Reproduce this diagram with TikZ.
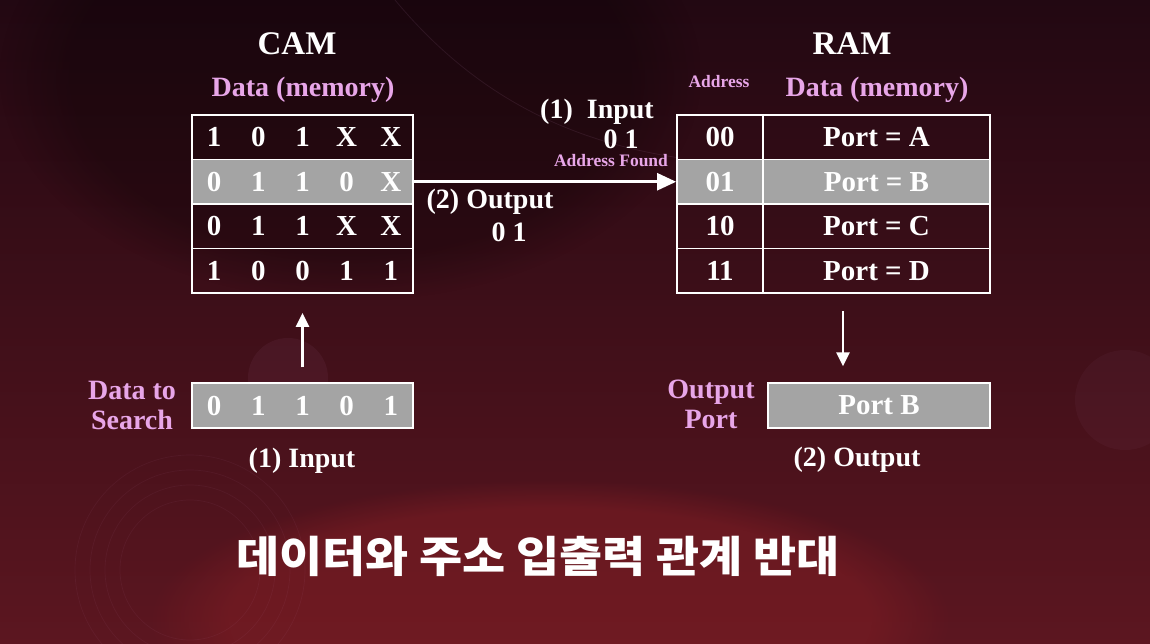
\documentclass[tikz,border=0pt]{standalone}
\usepackage{fontspec}
\setmainfont{Liberation Serif}
\newfontfamily\kr{Noto Sans CJK KR}
\usetikzlibrary{arrows.meta,fadings}
\definecolor{pinkc}{RGB}{232,166,232}
\definecolor{grayc}{RGB}{164,164,164}
\definecolor{bgtop}{RGB}{34,8,18}
\definecolor{bgbot}{RGB}{92,22,32}
\definecolor{glow}{RGB}{130,30,36}
\tikzset{
  wt/.style={text=white, font=\bfseries\fontsize{28}{30}\selectfont, inner sep=0pt},
  pk/.style={text=pinkc, font=\bfseries\fontsize{28}{30}\selectfont, inner sep=0pt},
  pksmall/.style={text=pinkc, font=\bfseries\fontsize{17.5}{19}\selectfont, inner sep=0pt},
  ttl/.style={text=white, font=\bfseries\fontsize{33}{35}\selectfont, inner sep=0pt},
  cellbox/.style={draw=white, line width=1.8pt, minimum height=44.5pt, inner sep=0pt},
  dig/.style={text=white, font=\bfseries\fontsize{29}{30}\selectfont, inner sep=0pt, text depth=0pt},
  arr/.style={draw=white, line width=2.4pt, -{Triangle[length=14pt,width=13pt]}},
  bigarr/.style={draw=white, line width=2.6pt, -{Triangle[length=19pt,width=17pt]}},
}
\begin{document}
\begin{tikzpicture}[x=1pt,y=-1pt]
\useasboundingbox (0,0) rectangle (1150,644);
% background
\begin{scope}
\clip (0,0) rectangle (1150,644);
\shade[top color=bgtop, bottom color=bgbot] (0,0) rectangle (1150,644);
\fill[glow, opacity=0.5, path fading=circle with fuzzy edge 20 percent] (150,480) rectangle (950,760);
\fill[black, opacity=0.25, path fading=circle with fuzzy edge 20 percent] (0,-150) rectangle (700,300);
% faint decorations
\fill[pinkc, opacity=0.05] (288,378) circle (40);
\fill[pinkc, opacity=0.035] (1125,400) circle (50);
\foreach \r in {70,85,100,115}
  \draw[pinkc, opacity=0.05, line width=0.7pt] (190,570) circle (\r);
\draw[pinkc, opacity=0.09, line width=0.8pt] (395,0) .. controls (470,90) and (560,140) .. (680,158);
\end{scope}

% titles
\node[ttl, anchor=base] (camt) at (297,55) {CAM};
\node[ttl, anchor=base] (ramt) at (852,55) {RAM};
\node[pk, anchor=base] (camd) at (303,97) {Data (memory)};
\node[pk, anchor=base] (ramd) at (877,97) {Data (memory)};
\node[pksmall, anchor=base] (addr) at (719,88) {Address};

% CAM table
\node[cellbox, minimum width=221pt] (cam1) at (302.5,137.25) {};
\node[cellbox, minimum width=221pt, fill=grayc] (cam2) at (302.5,181.75) {};
\node[cellbox, minimum width=221pt] (cam3) at (302.5,226.25) {};
\node[cellbox, minimum width=221pt] (cam4) at (302.5,270.75) {};
\foreach \row/\y [count=\i] in {{1,0,1,X,X}/137.25,{0,1,1,0,X}/181.75,{0,1,1,X,X}/226.25,{1,0,0,1,1}/270.75}{
  \foreach \d [count=\j] in \row {
    \node[dig] (c\i\j) at (169.9+44.2*\j,\y) {\d};
  }
}

% RAM table
\foreach \a/\p/\y [count=\i] in {00/A/137.25,01/B/181.75,10/C/226.25,11/D/270.75}{
  \ifnum\i=2
    \node[cellbox, minimum width=86pt, fill=grayc] (ra\i) at (720,\y) {};
    \node[cellbox, minimum width=227pt, fill=grayc] (rd\i) at (876.5,\y) {};
  \else
    \node[cellbox, minimum width=86pt] (ra\i) at (720,\y) {};
    \node[cellbox, minimum width=227pt] (rd\i) at (876.5,\y) {};
  \fi
  \node[dig] (ral\i) at (720,\y) {\a};
  \node[dig] (rdl\i) at (876.5,\y) {Port = \p};
}

% middle arrow and labels
\draw[bigarr] (cam2.east) -- (ra2.west);
\node[wt, anchor=base] (in1) at (597,119) {(1)\ \ Input};
\node[wt, anchor=base] (in01) at (621,149) {0 1};
\node[pksmall, anchor=base] (found) at (611,167) {Address Found};
\node[wt, anchor=base] (out2) at (490,209) {(2) Output};
\node[wt, anchor=base] (out01) at (509,241) {0 1};

% search box
\node[cellbox, minimum width=221pt, fill=grayc] (search) at (302.5,405.5) {};
\foreach \d [count=\j] in {0,1,1,0,1}
  \node[dig] (s\j) at (169.9+44.2*\j,405.5) {\d};
\node[pk, anchor=base] (dts1) at (132,399) {Data to};
\node[pk, anchor=base] (dts2) at (132,429) {Search};
\node[wt, anchor=base] (inp) at (302,467) {(1) Input};
\draw[arr, shorten <=15pt, shorten >=19pt] (search.north) -- (cam4.south);

% port box
\node[cellbox, minimum width=222pt, fill=grayc] (portb) at (879,405.5) {};
\node[dig] (portbl) at (879,405.5) {Port B};
\node[pk, anchor=base] (op1) at (711,398) {Output};
\node[pk, anchor=base] (op2) at (711,428) {Port};
\node[wt, anchor=base] (outp) at (857,466) {(2) Output};
\coordinate (dtop) at (843,311);
\draw[arr, shorten >=16pt] (dtop) -- (dtop |- portb.north);

% Korean caption
\node[text=white, font=\kr\bfseries\fontsize{43}{48}\selectfont, anchor=base, inner sep=0pt] (cap) at (538,572) {\scalebox{1.09}[1]{데이터와 주소 입출력 관계 반대}};
\end{tikzpicture}
\end{document}
